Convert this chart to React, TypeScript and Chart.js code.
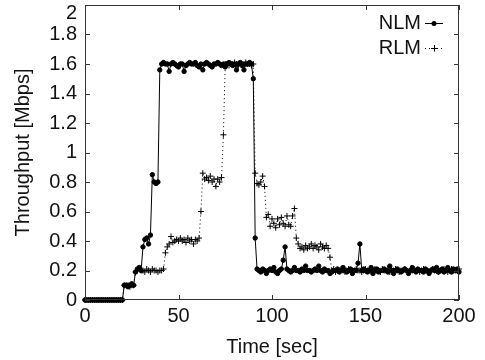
import React, { useEffect, useRef } from "react";
import { Chart, registerables } from "chart.js";

Chart.register(...registerables);

// Sampling step of both series (seconds)
const timeStepSec = 1;

// NLM throughput [Mbps], one sample per second, t = 0..200
const nlmMbps: number[] = [
  // 0-20
  0, 0, 0, 0, 0, 0, 0, 0, 0, 0, 0, 0, 0, 0, 0, 0, 0, 0, 0, 0, 0,
  // 21-26
  0.1, 0.1, 0.09, 0.1, 0.11, 0.1,
  // 27-30
  0.19, 0.21, 0.22, 0.2,
  // 31-35
  0.36, 0.41, 0.42, 0.38, 0.44,
  // 36-39
  0.85, 0.8, 0.79, 0.8,
  // 40
  1.56,
  // 41-50
  1.6, 1.61, 1.6, 1.6, 1.55, 1.6, 1.61, 1.6, 1.59, 1.58,
  // 51-60
  1.6, 1.6, 1.55, 1.59, 1.6, 1.61, 1.6, 1.6, 1.61, 1.59,
  // 61-70
  1.58, 1.6, 1.56, 1.6, 1.61, 1.6, 1.59, 1.58, 1.6, 1.6,
  // 71-80
  1.61, 1.6, 1.59, 1.6, 1.58, 1.6, 1.61, 1.6, 1.59, 1.6,
  // 81-89
  1.56, 1.6, 1.61, 1.59, 1.56, 1.6, 1.6, 1.61, 1.6,
  // 90-91
  1.5, 0.42,
  // 92-99
  0.21, 0.2, 0.19, 0.21, 0.2, 0.18, 0.2, 0.21,
  // 100-109
  0.2, 0.22, 0.19, 0.18, 0.2, 0.21, 0.27, 0.36, 0.21, 0.2,
  // 110-119
  0.19, 0.2, 0.22, 0.2, 0.2, 0.19, 0.21, 0.2, 0.23, 0.2,
  // 120-129
  0.2, 0.19, 0.2, 0.21, 0.2, 0.23, 0.2, 0.19, 0.21, 0.2,
  // 130-139
  0.2, 0.18, 0.19, 0.2, 0.2, 0.21, 0.19, 0.2, 0.22, 0.2,
  // 140-149
  0.19, 0.2, 0.21, 0.18, 0.2, 0.2, 0.25, 0.38, 0.2, 0.21,
  // 150-159
  0.2, 0.19, 0.2, 0.22, 0.18, 0.2, 0.21, 0.19, 0.2, 0.2,
  // 160-169
  0.21, 0.2, 0.19, 0.23, 0.2, 0.18, 0.2, 0.21, 0.2, 0.19,
  // 170-179
  0.2, 0.21, 0.2, 0.18, 0.2, 0.22, 0.2, 0.19, 0.21, 0.2,
  // 180-189
  0.2, 0.19, 0.21, 0.2, 0.18, 0.2, 0.21, 0.2, 0.22, 0.19,
  // 190-199
  0.2, 0.21, 0.19, 0.2, 0.22, 0.2, 0.19, 0.21, 0.2, 0.21,
  // 200
  0.19,
];

// RLM throughput [Mbps], one sample per second, t = 0..200
const rlmMbps: number[] = [
  // 0-20
  0, 0, 0, 0, 0, 0, 0, 0, 0, 0, 0, 0, 0, 0, 0, 0, 0, 0, 0, 0, 0,
  // 21-26
  0.1, 0.1, 0.1, 0.09, 0.1, 0.1,
  // 27-42
  0.19, 0.2, 0.21, 0.2, 0.2, 0.19, 0.21, 0.2, 0.19, 0.21, 0.2, 0.2, 0.19, 0.2, 0.2, 0.21,
  // 43-46
  0.32, 0.36, 0.38, 0.43,
  // 47-61
  0.39, 0.4, 0.41, 0.4, 0.42, 0.4, 0.41, 0.39, 0.42, 0.4, 0.41, 0.38, 0.41, 0.4, 0.42,
  // 62
  0.6,
  // 63-73
  0.86, 0.82, 0.83, 0.81, 0.84, 0.8, 0.82, 0.77, 0.82, 0.8, 0.83,
  // 74
  1.12,
  // 75-89
  1.6, 1.6, 1.59, 1.6, 1.6, 1.61, 1.6, 1.59, 1.6, 1.6, 1.6, 1.61, 1.6, 1.6, 1.59,
  // 90
  1.6,
  // 91-96
  0.86, 0.79, 0.78, 0.8, 0.84, 0.77,
  // 97-98
  0.56, 0.58,
  // 99-112
  0.5, 0.55, 0.52, 0.49, 0.55, 0.51, 0.56, 0.52, 0.5, 0.57, 0.51, 0.5, 0.57, 0.62,
  // 113-114
  0.42, 0.38,
  // 115-130
  0.35, 0.36, 0.34, 0.37, 0.35, 0.36, 0.38, 0.35, 0.37, 0.36, 0.34, 0.38, 0.36, 0.35, 0.37, 0.35,
  // 131
  0.29,
  // 132-139
  0.2, 0.21, 0.19, 0.2, 0.2, 0.21, 0.2, 0.19,
  // 140-149
  0.2, 0.21, 0.2, 0.19, 0.2, 0.21, 0.2, 0.2, 0.19, 0.2,
  // 150-159
  0.21, 0.2, 0.2, 0.19, 0.2, 0.21, 0.2, 0.2, 0.19, 0.21,
  // 160-169
  0.2, 0.2, 0.21, 0.19, 0.2, 0.2, 0.21, 0.2, 0.19, 0.2,
  // 170-179
  0.2, 0.21, 0.2, 0.19, 0.2, 0.2, 0.21, 0.2, 0.2, 0.19,
  // 180-189
  0.2, 0.21, 0.2, 0.2, 0.19, 0.2, 0.21, 0.2, 0.2, 0.19,
  // 190-199
  0.2, 0.2, 0.21, 0.2, 0.19, 0.2, 0.21, 0.2, 0.2, 0.2,
  // 200
  0.21,
];

const seriesNames = ["NLM", "RLM"];
const xTickValues = [0, 50, 100, 150, 200];
const xTickLabels = ["0", "50", "100", "150", "200"];
const yTickValues = [0, 0.2, 0.4, 0.6, 0.8, 1, 1.2, 1.4, 1.6, 1.8, 2];
const yTickLabels = ["0", "0.2", "0.4", "0.6", "0.8", "1", "1.2", "1.4", "1.6", "1.8", "2"];
const xTitle = "Time [sec]";
const yTitle = "Throughput [Mbps]";

const FONT = '"Liberation Sans", Arial, Helvetica, sans-serif';
const FONT_SIZE = 20;
const INK = "#111";

const toPoints = (vals: number[]) => vals.map((v, i) => ({ x: i * timeStepSec, y: v }));

const gnuplotFrame = {
  id: "gnuplotFrame",
  afterDatasetsDraw(chart: any) {
    const { ctx, chartArea: a } = chart;
    const xs = chart.scales.x;
    const ys = chart.scales.y;
    ctx.save();
    ctx.strokeStyle = "#333";
    ctx.lineWidth = 1;
    ctx.strokeRect(a.left + 0.5, a.top + 0.5, a.right - a.left - 1, a.bottom - a.top - 1);
    const tl = 5;
    ctx.beginPath();
    yTickValues.forEach((v) => {
      const py = Math.round(ys.getPixelForValue(v)) + 0.5;
      ctx.moveTo(a.left, py);
      ctx.lineTo(a.left + tl, py);
      ctx.moveTo(a.right, py);
      ctx.lineTo(a.right - tl, py);
    });
    xTickValues.forEach((v) => {
      const px = Math.round(xs.getPixelForValue(v)) + 0.5;
      ctx.moveTo(px, a.bottom);
      ctx.lineTo(px, a.bottom - tl);
      ctx.moveTo(px, a.top);
      ctx.lineTo(px, a.top + tl);
    });
    ctx.stroke();
    ctx.restore();
  },
  afterDraw(chart: any) {
    const { ctx, chartArea: a } = chart;
    const ys = chart.scales.y;
    ctx.save();
    ctx.fillStyle = INK;
    ctx.font = `${FONT_SIZE}px ${FONT}`;
    // y tick labels
    ctx.textAlign = "right";
    ctx.textBaseline = "middle";
    yTickValues.forEach((v, i) => {
      const py = ys.getPixelForValue(v);
      const cy = Math.max(py, a.top + 8);
      ctx.fillText(yTickLabels[i], a.left - 8, cy);
    });
    // legend (gnuplot key)
    const rows = [23, 48];
    const x0 = 425;
    const x1 = 443;
    const mx = 434;
    chart.data.datasets.forEach((ds: any, i: number) => {
      const y = rows[i];
      ctx.fillStyle = INK;
      ctx.textAlign = "right";
      ctx.fillText(ds.label, 421, y);
      ctx.strokeStyle = "#000";
      ctx.lineWidth = 1;
      ctx.setLineDash(i === 0 ? [] : [1, 3]);
      ctx.beginPath();
      ctx.moveTo(x0, y + 0.5);
      ctx.lineTo(x1, y + 0.5);
      ctx.stroke();
      ctx.setLineDash([]);
      if (i === 0) {
        ctx.fillStyle = "#000";
        ctx.beginPath();
        ctx.arc(mx, y + 0.5, 2.5, 0, Math.PI * 2);
        ctx.fill();
      } else {
        ctx.beginPath();
        ctx.moveTo(mx - 3, y + 0.5);
        ctx.lineTo(mx + 3, y + 0.5);
        ctx.moveTo(mx + 0.5, y - 3);
        ctx.lineTo(mx + 0.5, y + 3.5);
        ctx.stroke();
      }
    });
    ctx.restore();
  },
};

export default function App() {
  const canvasRef = useRef<HTMLCanvasElement | null>(null);

  useEffect(() => {
    document.body.style.margin = "0";
    const canvas = canvasRef.current;
    if (!canvas) return;
    const chart = new Chart(canvas, {
      type: "line",
      data: {
        datasets: [
          {
            label: seriesNames[0],
            data: toPoints(nlmMbps),
            borderColor: "#000",
            backgroundColor: "#000",
            borderWidth: 1,
            pointStyle: "circle",
            pointRadius: 2.2,
            pointBorderWidth: 1,
            pointBackgroundColor: "#000",
            pointBorderColor: "#000",
            tension: 0,
            clip: false,
          },
          {
            label: seriesNames[1],
            data: toPoints(rlmMbps),
            borderColor: "#000",
            backgroundColor: "#000",
            borderWidth: 1,
            borderDash: [1, 3],
            pointStyle: "cross",
            pointRadius: 3,
            pointBorderWidth: 1,
            pointBorderColor: "#000",
            tension: 0,
            clip: false,
          },
        ],
      } as any,
      options: {
        animation: false,
        responsive: false,
        devicePixelRatio: 1,
        layout: { padding: { top: 5, right: 26, left: 0, bottom: 0 } },
        plugins: {
          legend: { display: false },
          tooltip: { enabled: false },
        },
        scales: {
          x: {
            type: "linear",
            min: 0,
            max: 200,
            afterBuildTicks: (s: any) => {
              s.ticks = xTickValues.map((v) => ({ value: v }));
            },
            afterFit: (s: any) => {
              s.height = 60;
            },
            grid: { display: false, drawTicks: false },
            border: { display: false },
            ticks: {
              color: INK,
              padding: 4,
              maxRotation: 0,
              autoSkip: false,
              font: { family: FONT, size: FONT_SIZE },
              callback: (v: any) => {
                const i = xTickValues.indexOf(Number(v));
                return i >= 0 ? xTickLabels[i] : "";
              },
            },
            title: {
              display: true,
              text: xTitle,
              color: INK,
              font: { family: FONT, size: FONT_SIZE },
              padding: { top: 0, bottom: 1 },
            },
          },
          y: {
            type: "linear",
            min: 0,
            max: 2,
            afterBuildTicks: (s: any) => {
              s.ticks = yTickValues.map((v) => ({ value: v }));
            },
            afterFit: (s: any) => {
              s.width = 85;
              s.paddingTop = 0;
              s.paddingBottom = 0;
            },
            grid: { display: false, drawTicks: false },
            border: { display: false },
            ticks: { display: false },
            title: {
              display: true,
              text: yTitle,
              color: INK,
              font: { family: FONT, size: FONT_SIZE },
              padding: { top: 11, bottom: 0 },
            },
          },
        },
      } as any,
      plugins: [gnuplotFrame],
    });
    return () => chart.destroy();
  }, []);

  return (
    <div style={{ position: "fixed", left: 0, top: 0, width: 485, height: 360, background: "#fff" }}>
      <canvas ref={canvasRef} width={485} height={360} style={{ width: 485, height: 360 }} />
    </div>
  );
}
